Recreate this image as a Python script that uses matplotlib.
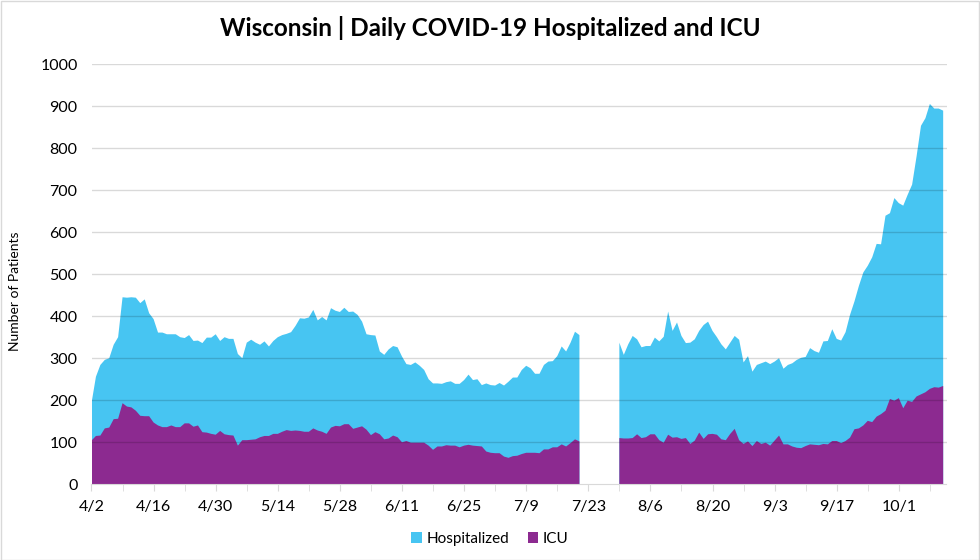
import numpy as np
import pandas as pd
import matplotlib
matplotlib.use("Agg")
import matplotlib.pyplot as plt
from matplotlib.patches import Rectangle

# daily values, 4/2 - 7/21
hosp_apr_jul = [193, 256, 284, 296, 300, 332, 350, 445, 444, 445, 444, 431, 440, 407, 393, 361,
                361, 357, 357, 357, 350, 348, 355, 341, 342, 336, 349, 349, 357, 341, 350, 346,
                346, 310, 300, 337, 344, 337, 332, 340, 328, 341, 350, 355, 358, 362, 377, 395,
                394, 397, 415, 390, 398, 390, 419, 413, 410, 420, 410, 411, 403, 387, 357, 355,
                354, 316, 308, 321, 329, 326, 304, 286, 284, 290, 282, 272, 250, 240, 240, 239,
                243, 245, 239, 239, 248, 261, 248, 250, 236, 240, 236, 235, 241, 235, 244, 254,
                254, 272, 282, 276, 263, 263, 284, 292, 293, 305, 328, 316, 337, 363, 355]
icu_apr_jul = [104, 115, 116, 133, 135, 155, 156, 193, 185, 183, 175, 163, 162, 162, 147, 140,
               136, 136, 140, 136, 136, 145, 145, 137, 140, 124, 123, 120, 118, 127, 119, 117,
               116, 92, 105, 105, 106, 107, 112, 115, 115, 120, 120, 125, 129, 127, 128, 127,
               125, 125, 133, 128, 125, 120, 135, 139, 138, 143, 143, 132, 135, 138, 130, 117,
               124, 119, 107, 109, 116, 112, 100, 103, 99, 99, 99, 99, 92, 82, 90, 90,
               93, 92, 92, 88, 92, 94, 92, 91, 90, 78, 75, 74, 74, 66, 63, 67,
               68, 72, 75, 75, 75, 74, 83, 83, 88, 88, 95, 90, 98, 107, 102]

# daily values, 7/30 - 10/11
hosp_jul_oct = [337, 308, 333, 353, 345, 326, 329, 329, 349, 340, 351, 411, 365, 385, 353, 336,
                337, 345, 365, 379, 387, 365, 350, 333, 321, 337, 353, 344, 290, 305, 268, 284,
                288, 292, 286, 292, 300, 275, 284, 288, 296, 301, 303, 324, 317, 313, 340, 341,
                369, 346, 342, 362, 403, 435, 472, 504, 520, 540, 572, 571, 639, 645, 681, 669,
                663, 689, 713, 780, 853, 871, 905, 894, 894, 889]
icu_jul_oct = [110, 109, 109, 110, 119, 110, 112, 119, 119, 105, 99, 118, 111, 112, 108, 110,
               96, 104, 123, 108, 119, 120, 118, 107, 105, 120, 132, 105, 96, 102, 91, 103,
               96, 99, 92, 104, 116, 95, 95, 90, 87, 86, 91, 95, 94, 93, 96, 95,
               103, 103, 98, 103, 111, 131, 133, 140, 151, 148, 161, 167, 175, 203, 199, 205,
               181, 199, 196, 209, 214, 219, 227, 231, 230, 234]

start_1 = "2020-04-02"
start_2 = "2020-07-30"

blue = "#47C5F2"
purple = "#8C2A90"
grid_c = "#D9D9D9"
plt.rcParams["font.family"] = ["Lato", "DejaVu Sans"]

d1 = pd.date_range(start_1, periods=len(hosp_apr_jul), freq="D")
d2 = pd.date_range(start_2, periods=len(hosp_jul_oct), freq="D")
dates = pd.date_range(d1[0], d2[-1], freq="D")
hosp = pd.Series(np.nan, index=dates)
icu = pd.Series(np.nan, index=dates)
hosp[d1] = hosp_apr_jul
hosp[d2] = hosp_jul_oct
icu[d1] = icu_apr_jul
icu[d2] = icu_jul_oct

fig = plt.figure(figsize=(9.8, 5.6), dpi=100)
ax = fig.add_axes([91.5 / 980, 1 - 484.3 / 560, 855 / 980, 420.3 / 560])

ax.fill_between(dates, 0, hosp.values, color=blue, lw=0, label="Hospitalized", zorder=2)
ax.fill_between(dates, 0, icu.values, color=purple, lw=0, label="ICU", zorder=3)

ax.set_ylim(0, 1000)
ax.set_xlim(dates[0], dates[-1] + pd.Timedelta(hours=18))
ax.set_yticks(range(0, 1001, 100))
for v in range(100, 1001, 100):
    ax.axhline(v, color="black", alpha=0.15, lw=1, zorder=4)

major = pd.date_range(start_1, dates[-1], freq="14D")
minor = pd.date_range(start_1, dates[-1], freq="7D")
ax.set_xticks(major)
ax.set_xticks(minor, minor=True)
ax.set_xticklabels([f"{d.month}/{d.day}" for d in major])

for s in ["top", "right", "left"]:
    ax.spines[s].set_visible(False)
ax.spines["bottom"].set_color(grid_c)
ax.spines["bottom"].set_zorder(5)
ax.tick_params(axis="y", length=0, labelsize=11.5, pad=10, colors="black")
ax.tick_params(axis="x", which="both", length=5, color=grid_c, labelsize=11.5, pad=6)

fig.text(0.5, 1 - 28 / 560, "Wisconsin | Daily COVID-19 Hospitalized and ICU",
         ha="center", va="center", fontsize=17.5, fontweight="bold")
fig.text(15 / 980, 1 - 291 / 560, "Number of Patients", rotation=90,
         ha="center", va="center", fontsize=10)

h, l = ax.get_legend_handles_labels()
fig.legend(h, l, loc="center", bbox_to_anchor=(0.5, 1 - 539 / 560), ncol=2, frameon=False,
           fontsize=11, handlelength=0.7, handleheight=0.7, handletextpad=0.3, columnspacing=1.2)

fig.patches.append(Rectangle((0.5 / 980, 0.5 / 560), 978.5 / 980, 558.5 / 560,
                             transform=fig.transFigure, fill=False, edgecolor=grid_c, lw=1))

fig.savefig("out.png", dpi=100)
